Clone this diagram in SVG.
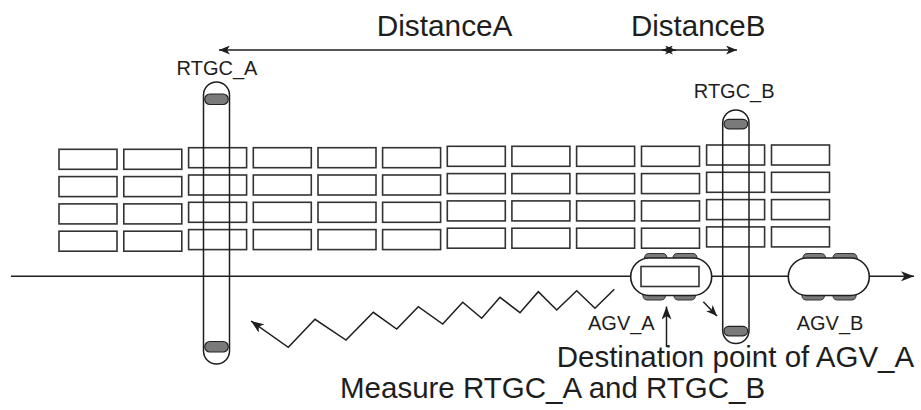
<svg xmlns="http://www.w3.org/2000/svg" width="921" height="410" viewBox="0 0 921 410">
  <style>
    .txt { font-family: "Liberation Sans", Arial, sans-serif; fill: #1e1e1e; }
    .box { fill: none; stroke: #333; stroke-width: 1.6; }
    .frame { fill: none; stroke: #1e1e1e; stroke-width: 1.5; }
    .pill { fill: #7a7a7a; stroke: #222; stroke-width: 1.2; }
    .wheel { fill: #7a7a7a; stroke: #333; stroke-width: 1; }
    .body { fill: #fff; stroke: #1e1e1e; stroke-width: 1.6; }
    .wire { fill: none; stroke: #1e1e1e; stroke-width: 1.5; }
  </style>
  <defs>
    <marker id="head" viewBox="0 0 13 10" refX="13" refY="5" markerWidth="13" markerHeight="10" markerUnits="userSpaceOnUse" orient="auto-start-reverse">
      <path d="M0,0 L13,5 L0,10 L3.5,5 Z" fill="#1e1e1e"/>
    </marker>
    <marker id="headS" viewBox="0 0 11 9" refX="11" refY="4.5" markerWidth="11" markerHeight="9" markerUnits="userSpaceOnUse" orient="auto-start-reverse">
      <path d="M0,0 L11,4.5 L0,9 L3,4.5 Z" fill="#1e1e1e"/>
    </marker>
    <rect id="cell" width="58" height="20"/>
    <g id="stack">
      <use href="#cell" y="0"/>
      <use href="#cell" y="27.3"/>
      <use href="#cell" y="54.6"/>
      <use href="#cell" y="81.9"/>
    </g>
  </defs>

  <!-- container stacks: 12 bays of 4 rows -->
  <g id="stacks" class="box">
    <use href="#stack" x="59" y="149.3"/>
    <use href="#stack" x="123.8" y="149.3"/>
    <use href="#stack" x="188.6" y="147.7"/>
    <use href="#stack" x="253.3" y="147.7"/>
    <use href="#stack" x="318" y="147.7"/>
    <use href="#stack" x="382.6" y="147.7"/>
    <use href="#stack" x="447.3" y="146.3"/>
    <use href="#stack" x="511.9" y="146.3"/>
    <use href="#stack" x="576.6" y="146.3"/>
    <use href="#stack" x="641.5" y="146.3"/>
    <use href="#stack" x="706.6" y="145"/>
    <use href="#stack" x="771.5" y="145"/>
  </g>

  <!-- connectors -->
  <g id="connectors" class="wire">
    <line x1="11" y1="276.3" x2="914" y2="276.3" marker-end="url(#head)"/>
    <line x1="219" y1="50" x2="676" y2="50" marker-start="url(#headS)" marker-end="url(#headS)"/>
    <line x1="662" y1="50" x2="737" y2="50" marker-start="url(#headS)" marker-end="url(#headS)"/>
    <polyline points="614.3,289.3 595,308.3 576.7,290.7 556.7,310 538.3,291.7 520,312.7 500,297.3 481.7,318.3 462.7,302.3 442.7,324 418.3,306.7 396.7,329 373.3,312.3 346,340 315,319.3 288.3,347.3 251,321" marker-end="url(#head)"/>
    <line x1="666.5" y1="347" x2="666.5" y2="306.5" marker-end="url(#head)"/>
    <line x1="703.3" y1="301.7" x2="717" y2="316" marker-end="url(#headS)"/>
  </g>

  <!-- gantry crane A -->
  <g id="rtgc-a">
    <rect class="frame" x="203.5" y="82" width="26" height="282" rx="13"/>
    <rect class="pill" x="204.8" y="94" width="23.4" height="10.5" rx="5"/>
    <rect class="pill" x="204.8" y="341.5" width="23.4" height="10.5" rx="5"/>
    <text class="txt" x="217" y="75" font-size="20" text-anchor="middle">RTGC_A</text>
  </g>

  <!-- gantry crane B -->
  <g id="rtgc-b">
    <rect class="frame" x="722.7" y="110" width="26.3" height="233.5" rx="13"/>
    <rect class="pill" x="724" y="119.3" width="23.7" height="9.5" rx="4.7"/>
    <rect class="pill" x="724" y="326.3" width="23.7" height="9.5" rx="4.7"/>
    <text class="txt" x="734.2" y="97.7" font-size="20" text-anchor="middle">RTGC_B</text>
  </g>

  <!-- vehicle A (loaded) -->
  <g id="agv-a">
    <path class="wheel" d="M643.3,262 L645,255.8 Q646,253.5 648.5,253.5 L663,253.5 Q665.5,253.5 666.5,255.8 L668.3,262 Z"/>
    <path class="wheel" d="M671.7,262 L673.4,255.8 Q674.4,253.5 676.9,253.5 L693.1,253.5 Q695.6,253.5 696.6,255.8 L698.3,262 Z"/>
    <path class="wheel" d="M641.7,291 L643.4,297.7 Q644.4,300 646.9,300 L661.5,300 Q664,300 665,297.7 L666.7,291 Z"/>
    <path class="wheel" d="M672.7,291 L674.4,297.7 Q675.4,300 677.9,300 L691.5,300 Q694,300 695,297.7 L696.7,291 Z"/>
    <rect class="body" x="630.7" y="258" width="81" height="37.5" rx="18.7"/>
    <rect class="box" x="641" y="266.5" width="58" height="20" stroke="#1e1e1e"/>
    <text class="txt" x="588" y="329.5" font-size="20">AGV_A</text>
  </g>

  <!-- vehicle B (empty) -->
  <g id="agv-b">
    <path class="wheel" d="M801.7,262 L803.4,255.8 Q804.4,253.5 806.9,253.5 L821.5,253.5 Q824,253.5 825,255.8 L826.7,262 Z"/>
    <path class="wheel" d="M831.7,262 L833.4,255.8 Q834.4,253.5 836.9,253.5 L853.1,253.5 Q855.6,253.5 856.6,255.8 L858.3,262 Z"/>
    <path class="wheel" d="M800.7,291 L802.4,297.7 Q803.4,300 805.9,300 L820.5,300 Q823,300 824,297.7 L825.7,291 Z"/>
    <path class="wheel" d="M831.7,291 L833.4,297.7 Q834.4,300 836.9,300 L852.1,300 Q854.6,300 855.6,297.7 L857.3,291 Z"/>
    <rect class="body" x="788.3" y="258" width="81" height="37.5" rx="18.7"/>
    <text class="txt" x="796.7" y="329.5" font-size="20">AGV_B</text>
  </g>

  <!-- dimension and caption texts -->
  <g id="labels" class="txt">
    <text x="376.7" y="35.5" font-size="29.8">DistanceA</text>
    <text x="631" y="35.5" font-size="29.5">DistanceB</text>
    <text x="556.7" y="366.7" font-size="29.5">Destination point of AGV_A</text>
    <text x="340" y="398.3" font-size="29.5">Measure RTGC_A and RTGC_B</text>
  </g>
</svg>
